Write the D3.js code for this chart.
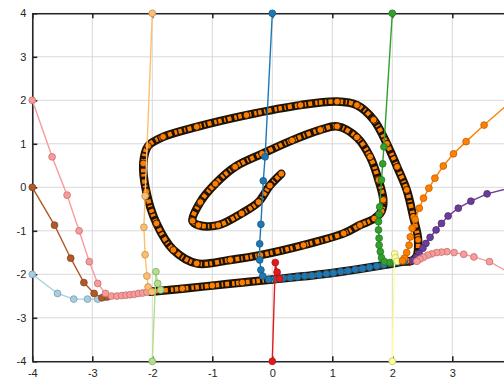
<!DOCTYPE html>
<html>
<head>
<meta charset="utf-8">
<script src="https://cdn.jsdelivr.net/npm/d3@7"></script>
<style>
  html, body { margin: 0; padding: 0; background: #fff; }
  svg { display: block; font-family: "Liberation Sans", Arial, sans-serif; }
</style>
</head>
<body>
<svg id="chart" width="504" height="380"></svg>
<script>
// ---------- data ----------
const xTicks = [-4, -3, -2, -1, 0, 1, 2, 3, 4];
const xTickLabels = ["-4", "-3", "-2", "-1", "0", "1", "2", "3", ""];
const yTicks = [-4, -3, -2, -1, 0, 1, 2, 3, 4];
const yTickLabels = ["-4", "-3", "-2", "-1", "0", "1", "2", "3", "4"];

// trajectories: [x, y] samples
const trajLightBlue = [[-4,-2],[-3.58,-2.44],[-3.31,-2.57],[-3.08,-2.57],[-2.91,-2.57],[-2.80,-2.53]];
const trajBrown = [[-4,0],[-3.63,-0.87],[-3.36,-1.63],[-3.14,-2.19],[-2.97,-2.44],[-2.84,-2.54],[-2.75,-2.52]];
const trajPinkLeft = [[-4,2],[-3.67,0.70],[-3.42,-0.18],[-3.22,-1.0],[-3.05,-1.71],[-2.91,-2.21],[-2.78,-2.44],
  [-2.68,-2.50],[-2.59,-2.50],[-2.51,-2.49],[-2.44,-2.48],[-2.37,-2.47],[-2.30,-2.46],[-2.23,-2.44],[-2.16,-2.43],[-2.09,-2.41]];
const trajLightOrange = [[-2,4],[-2.12,-0.2],[-2.14,-0.92],[-2.12,-1.55],[-2.09,-2.04],[-2.07,-2.29],[-2.01,-2.40]];
const trajLightGreen = [[-2,-4],[-1.94,-1.94],[-1.91,-2.21],[-1.86,-2.36]];
const trajRed = [[0,-4],[0.05,-1.73],[0.08,-1.95],[0.12,-2.10]];
const trajBlue = [[0,4],[-0.12,0.70],[-0.15,0.15],[-0.19,-0.85],[-0.21,-1.30],[-0.21,-1.67],[-0.19,-1.90],[-0.16,-2.04],[-0.06,-2.12],
  [0.06,-2.11],[0.18,-2.09],[0.30,-2.08],[0.42,-2.06],[0.54,-2.04],[0.66,-2.03],[0.78,-2.01],[0.90,-1.99],[1.02,-1.97],
  [1.14,-1.94],[1.26,-1.92],[1.38,-1.89],[1.50,-1.87],[1.62,-1.84],[1.74,-1.81],[1.86,-1.78],[1.98,-1.75],[2.10,-1.72],[2.20,-1.69]];
const trajGreen = [[2,4],[1.86,0.93],[1.84,0.54],[1.82,0.17],[1.79,-0.45],[1.78,-0.62],[1.77,-0.79],[1.77,-0.98],[1.78,-1.17],
  [1.78,-1.33],[1.80,-1.48],[1.82,-1.62],[1.87,-1.71],[1.96,-1.73],[2.05,-1.71]];
const trajLightYellow = [[2,-4],[2.04,-1.53],[2.05,-1.62],[2.08,-1.70]];
const trajOrange = [[4,2],[3.53,1.43],[3.23,1.05],[3.02,0.77],[2.85,0.49],[2.71,0.21],[2.61,-0.02],[2.52,-0.25],[2.45,-0.48],
  [2.38,-0.74],[2.33,-0.94],[2.30,-1.14],[2.28,-1.33],[2.24,-1.50],[2.20,-1.63],[2.17,-1.69]];
const trajPurple = [[4,0],[3.58,-0.15],[3.31,-0.32],[3.10,-0.48],[2.93,-0.66],[2.82,-0.83],[2.73,-0.98],[2.63,-1.15],
  [2.56,-1.29],[2.51,-1.40],[2.45,-1.52],[2.40,-1.62],[2.34,-1.68]];
const trajPinkRight = [[4,-2],[3.62,-1.71],[3.36,-1.60],[3.19,-1.54],[3.03,-1.50],[2.91,-1.48],[2.82,-1.49],[2.74,-1.50],
  [2.66,-1.53],[2.59,-1.56],[2.52,-1.61],[2.46,-1.65],[2.41,-1.70]];

// dense black-edged trajectory (spiral) and its slow-manifold part
const spiralPath = [[0.15,0.31],[-0.04,0.04],[-0.23,-0.34],[-0.51,-0.60],[-0.90,-0.87],[-1.23,-0.87],[-1.33,-0.77],
  [-1.20,-0.34],[-0.95,0.08],[-0.62,0.47],[-0.17,0.77],[0.33,1.08],[0.80,1.32],[1.08,1.40],[1.41,1.15],[1.63,0.70],
  [1.77,0.17],[1.85,-0.29],[1.82,-0.55],[1.70,-0.72],[1.46,-0.87],[1.19,-1.06],[0.52,-1.33],[-0.20,-1.56],[-0.70,-1.67],
  [-1.26,-1.75],[-1.65,-1.44],[-1.93,-0.83],[-2.10,-0.10],[-2.15,0.55],[-2.07,0.95],[-1.82,1.16],[-1.26,1.39],[-0.43,1.66],
  [0.47,1.89],[1.08,1.97],[1.41,1.89],[1.69,1.55],[1.91,1.00],[2.08,0.47],[2.24,-0.06],[2.35,-0.68],[2.43,-1.21],
  [2.40,-1.60],[2.30,-1.70],[2.20,-1.70]];
const manifoldPath = [[-2.03,-2.40],[-1.50,-2.33],[-1.00,-2.26],[-0.50,-2.19],[0,-2.12],[1.00,-1.97],[1.85,-1.79],[2.25,-1.69]];

const seriesColors = {
  lightBlue: "#a6cee3", blue: "#1f78b4", lightGreen: "#b2df8a", green: "#33a02c",
  pink: "#fb9a99", red: "#e31a1c", lightOrange: "#fdbf6f", orange: "#ff7f00",
  purple: "#6a3d9a", lightYellow: "#ffff99", brown: "#b15928"
};

// ---------- drawing ----------
const svg = d3.select("#chart");
const x = d3.scaleLinear().domain([-4, 4]).range([32.3, 512.3]);
const y = d3.scaleLinear().domain([-4, 4]).range([361.3, 13.3]);

// grid
const grid = svg.append("g");
grid.selectAll("line.gx").data(xTicks).join("line")
  .attr("x1", d => x(d)).attr("x2", d => x(d)).attr("y1", y(-4)).attr("y2", y(4))
  .attr("stroke", "#d9d9d9").attr("stroke-width", 1);
grid.selectAll("line.gy").data(yTicks).join("line")
  .attr("y1", d => y(d)).attr("y2", d => y(d)).attr("x1", x(-4)).attr("x2", x(4))
  .attr("stroke", "#d9d9d9").attr("stroke-width", 1);

// axes
const axisColor = "#262626";
function styleAxis(g) {
  g.select(".domain").attr("stroke", axisColor).attr("stroke-width", 1.6);
  g.selectAll(".tick line").attr("stroke", axisColor).attr("stroke-width", 1.6);
  g.selectAll(".tick text").attr("fill", axisColor).attr("font-size", 11)
    .attr("font-family", "Liberation Sans, Arial, sans-serif");
}
svg.append("g").attr("transform", `translate(0,${y(-4)})`)
  .call(d3.axisBottom(x).tickValues(xTicks).tickFormat((d, i) => xTickLabels[i])
    .tickSizeInner(-5).tickSizeOuter(0).tickPadding(8))
  .call(styleAxis);
svg.append("g").attr("transform", `translate(0,${y(4)})`)
  .call(d3.axisTop(x).tickValues(xTicks).tickFormat("").tickSizeInner(-5).tickSizeOuter(0))
  .call(styleAxis);
svg.append("g").attr("transform", `translate(${x(-4)},0)`)
  .call(d3.axisLeft(y).tickValues(yTicks).tickFormat((d, i) => yTickLabels[i])
    .tickSizeInner(-5).tickSizeOuter(0).tickPadding(6))
  .call(styleAxis);

const line = d3.line().x(d => x(d[0])).y(d => y(d[1]));
const smooth = d3.line().x(d => x(d[0])).y(d => y(d[1])).curve(d3.curveCatmullRom.alpha(0.5));

// dense black-edged trajectory drawn as a band of overlapping markers
const bandDark = "#1e1307";
function band(pts) {
  svg.append("path").attr("d", smooth(pts)).attr("fill", "none")
    .attr("stroke", bandDark).attr("stroke-width", 8.5).attr("stroke-linecap", "round").attr("stroke-linejoin", "round");
  svg.append("path").attr("d", smooth(pts)).attr("fill", "none")
    .attr("stroke", seriesColors.orange).attr("stroke-width", 4.6)
    .attr("stroke-dasharray", "2.5,1.5,3.5,2.5,1.5,2,4,3")
    .attr("stroke-linecap", "butt").attr("stroke-linejoin", "round");
}
band(manifoldPath);
band(spiralPath);
svg.append("g").selectAll("circle").data(spiralPath.concat(manifoldPath)).join("circle")
  .attr("cx", d => x(d[0])).attr("cy", d => y(d[1])).attr("r", 3.4)
  .attr("fill", seriesColors.orange).attr("stroke", bandDark).attr("stroke-width", 0.9);

// sparse trajectories with markers
const series = [
  [trajLightBlue, seriesColors.lightBlue],
  [trajBrown, seriesColors.brown],
  [trajPinkLeft, seriesColors.pink],
  [trajLightOrange, seriesColors.lightOrange],
  [trajLightGreen, seriesColors.lightGreen],
  [trajBlue, seriesColors.blue],
  [trajRed, seriesColors.red],
  [trajGreen, seriesColors.green],
  [trajLightYellow, seriesColors.lightYellow],
  [trajOrange, seriesColors.orange],
  [trajPurple, seriesColors.purple],
  [trajPinkRight, seriesColors.pink]
];
series.forEach(([pts, col]) => {
  const edge = d3.color(col).darker(0.8).formatHex();
  const g = svg.append("g");
  g.append("path").attr("d", line(pts)).attr("fill", "none")
    .attr("stroke", col).attr("stroke-width", 1.4);
  g.selectAll("circle").data(pts).join("circle")
    .attr("cx", d => x(d[0])).attr("cy", d => y(d[1])).attr("r", 3.4)
    .attr("fill", col).attr("stroke", edge).attr("stroke-width", 0.8);
});
</script>
</body>
</html>
